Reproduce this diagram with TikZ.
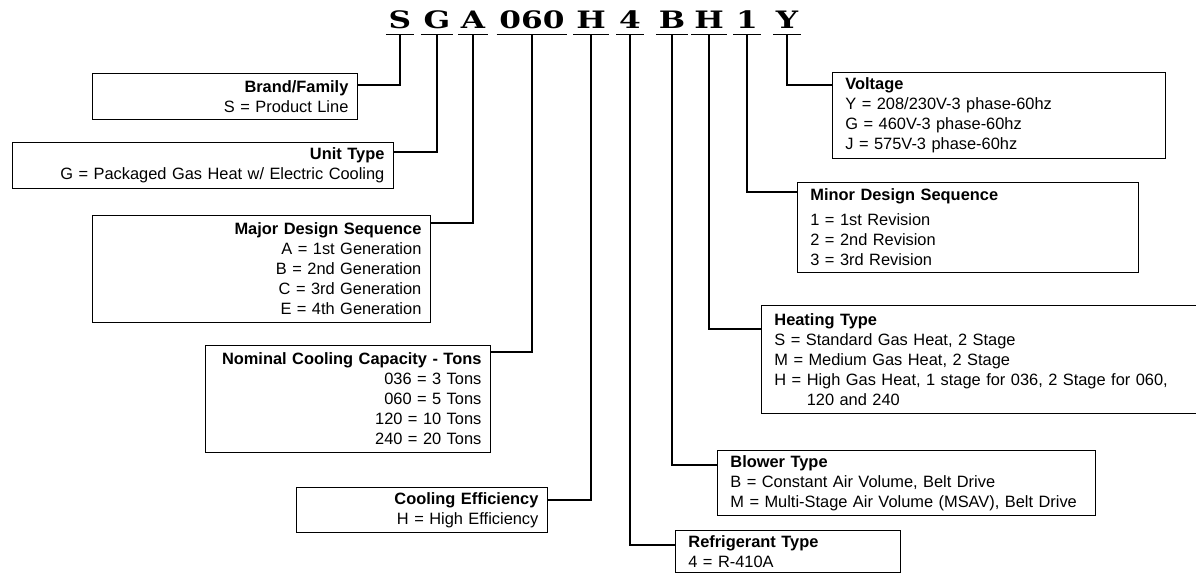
\documentclass[tikz,border=0pt]{standalone}
\usepackage{fontspec}
\setmainfont{Liberation Sans}
\newfontfamily\codefont{DejaVu Serif}
\usetikzlibrary{calc}

\begin{document}
\begin{tikzpicture}[x=1pt,y=-1pt,
  keyfont/.style={font=\fontsize{16.4}{20}\selectfont},
  codeletter/.style={anchor=base,font=\codefont\bfseries\fontsize{24}{24}\selectfont,
    xscale=1.3,inner xsep=2pt,inner ysep=6pt,text depth=0pt},
  lbox/.style={draw,line width=0.8pt,anchor=north west,align=right,inner xsep=9pt,keyfont},
  rbox/.style={draw,line width=0.8pt,anchor=north west,align=left,inner xsep=13pt,keyfont},
  link/.style={line width=1.2pt}]
  \useasboundingbox (0,0) rectangle (1196,574);
  \clip (0,0) rectangle (1196,574);
  % model number
  \node[codeletter] (cS) at (400,28) {S};
  \node[codeletter] (cG) at (437,28) {G};
  \node[codeletter] (cA) at (473,28) {A};
  \node[codeletter] (c060) at (532,28) {060};
  \node[codeletter] (cH) at (591,28) {H};
  \node[codeletter] (c4) at (630,28) {4};
  \node[codeletter] (cB) at (672,28) {B};
  \node[codeletter] (cHt) at (709,28) {H};
  \node[codeletter] (c1) at (747,28) {1};
  \node[codeletter] (cY) at (787,28) {Y};
  \foreach \c in {cS,cG,cA,c060,cH,c4,cB,cHt,c1,cY}
    \draw[line width=1pt] (\c.south west) -- (\c.south east);
  % left side
  \node[lbox,text width=247pt,minimum height=46pt] (brand) at (92,73)
    {\textbf{Brand/Family}\\S = Product Line};
  \node[lbox,text width=363pt,minimum height=46pt] (unit) at (12,142)
    {\textbf{Unit Type}\\G = Packaged Gas Heat w/ Electric Cooling};
  \node[lbox,text width=320pt,minimum height=107pt] (major) at (92,215)
    {\textbf{Major Design Sequence}\\A = 1st Generation\\B = 2nd Generation\\C = 3rd Generation\\E = 4th Generation};
  \node[lbox,text width=267pt,minimum height=107pt] (nominal) at (205,345)
    {\textbf{Nominal Cooling Capacity - Tons}\\036 = 3 Tons\\060 = 5 Tons\\120 = 10 Tons\\240 = 20 Tons};
  \node[lbox,text width=233pt,minimum height=45pt] (cooling) at (296,487)
    {\textbf{Cooling Efficiency}\\H = High Efficiency};
  % right side
  \node[rbox,text width=307pt,minimum height=86pt] (voltage) at (832,72)
    {\textbf{Voltage}\\Y = 208/230V-3 phase-60hz\\G = 460V-3 phase-60hz\\J = 575V-3 phase-60hz};
  \node[rbox,text width=315pt,minimum height=90pt] (minor) at (797,182)
    {\textbf{Minor Design Sequence}\\[5pt]1 = 1st Revision\\2 = 2nd Revision\\3 = 3rd Revision};
  \node[rbox,text width=413pt,minimum height=108pt] (heating) at (761,305)
    {\textbf{Heating Type}\\S = Standard Gas Heat, 2 Stage\\M = Medium Gas Heat, 2 Stage\\
     H = High Gas Heat, 1 stage for 036, 2 Stage for 060,\\\phantom{H = }120 and 240};
  \node[rbox,text width=352pt,minimum height=65pt] (blower) at (717,450)
    {\textbf{Blower Type}\\B = Constant Air Volume, Belt Drive\\M = Multi-Stage Air Volume (MSAV), Belt Drive};
  \node[rbox,text width=199pt,minimum height=42pt] (refrig) at (675,530)
    {\textbf{Refrigerant Type}\\4 = R-410A};
  % connectors
  \draw[link] (cS.south) |- ([yshift=-12pt]brand.north east);
  \draw[link] (cG.south) |- ([yshift=-10pt]unit.north east);
  \draw[link] (cA.south) |- ([yshift=-8pt]major.north east);
  \draw[link] (c060.south) |- ([yshift=-7pt]nominal.north east);
  \draw[link] (cH.south) |- ([yshift=-13pt]cooling.north east);
  \draw[link] (c4.south) |- ([yshift=-15pt]refrig.north west);
  \draw[link] (cB.south) |- ([yshift=-15pt]blower.north west);
  \draw[link] (cHt.south) |- ([yshift=-24pt]heating.north west);
  \draw[link] (c1.south) |- ([yshift=-10pt]minor.north west);
  \draw[link] (cY.south) |- ([yshift=-13pt]voltage.north west);
\end{tikzpicture}
\end{document}
